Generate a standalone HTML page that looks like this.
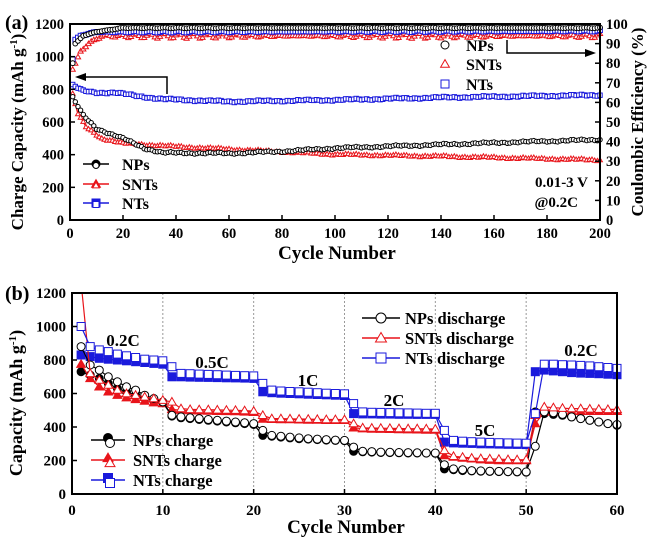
<!DOCTYPE html>
<html><head><meta charset="utf-8">
<style>
html,body{margin:0;padding:0;background:#fff;}
svg{display:block;font-family:"Liberation Serif",serif;font-weight:bold;}
</style></head>
<body>
<svg id="s" width="650" height="537" viewBox="0 0 650 537" xmlns="http://www.w3.org/2000/svg">
</svg>
<script>
const S=document.getElementById('s');let h='';
function T(x,y,t,sz,anc,extra){h+=`<text x="${x}" y="${y}" font-size="${sz}" text-anchor="${anc||'start'}" ${extra||''}>${t}</text>`;}
function mk(type,x,y,r,col,fill){
 const f=fill?col:'#fff';
 if(type=='c')return `<circle cx="${x.toFixed(1)}" cy="${y.toFixed(1)}" r="${r}" fill="${f}" stroke="${col}" stroke-width="1"/>`;
 if(type=='s')return `<rect x="${(x-r).toFixed(1)}" y="${(y-r).toFixed(1)}" width="${2*r}" height="${2*r}" fill="${f}" stroke="${col}" stroke-width="1"/>`;
 return `<polygon points="${x.toFixed(1)},${(y-r*1.1).toFixed(1)} ${(x-r*1.1).toFixed(1)},${(y+r*0.8).toFixed(1)} ${(x+r*1.1).toFixed(1)},${(y+r*0.8).toFixed(1)}" fill="${f}" stroke="${col}" stroke-width="1"/>`;
}
function interp(pts,x){for(let i=0;i<pts.length-1;i++){if(x<=pts[i+1][0]){const[a,b]=pts[i],[c,d]=pts[i+1];return b+(d-b)*(x-a)/(c-a);}}return pts[pts.length-1][1];}
const R='#e8141a',B='#1a1adc',K='#000';
// ---------- Panel (a)
const ax0=70,ax1=600,ay0=220,ay1=24;
const AX=c=>ax0+(ax1-ax0)*c/200, AY=v=>ay0+(ay1-ay0)*v/1200, AYc=v=>ay0+(ay1-ay0)*v/100;
const np=[[1,750],[5,640],[10,560],[20,500],[28,440],[35,412],[60,408],[80,420],[100,440],[140,462],[170,478],[200,492]];
const snt=[[1,770],[3,650],[6,570],[12,500],[20,470],[40,450],[70,425],[100,402],[140,390],[200,368]];
const nt=[[1,825],[5,790],[10,780],[17,780],[25,760],[35,740],[60,725],[80,730],[100,735],[140,750],[200,765]];
const cnp=[[1,80],[2,90],[5,94],[10,96],[20,98],[200,98]];
const csn=[[1,77],[2,80],[4,86],[7,90],[12,94],[200,94]];
const cnt=[[1,82],[2,92],[4,94],[10,96],[200,96.5]];
function noise(i,a){return Math.sin(i*1.7)*a*0.6+Math.sin(i*0.37)*a*0.5;}
let g='';
[[snt,R,'t'],[np,K,'c'],[nt,B,'s']].forEach(([d,col,t])=>{
 let p='';for(let c=1;c<=200;c++){const v=interp(d,c)+noise(c,6);p+=(c==1?'M':'L')+AX(c).toFixed(1)+','+AY(v).toFixed(1);}
 g+=`<path d="${p}" fill="none" stroke="${col}" stroke-width="1.4"/>`;
 for(let c=1;c<=200;c++){const v=interp(d,c)+noise(c,6);g+=mk(t,AX(c),AY(v),2.2,col,false);}
});
[[csn,R,'t',1.2],[cnt,B,'s',0.4],[cnp,K,'c',0.2]].forEach(([d,col,t,nz])=>{
 for(let c=1;c<=200;c++){const v=interp(d,c)+noise(c*3,nz);g+=mk(t,AX(c),AYc(v),2.4,col,false);}
});
h+=g;
h+=`<rect x="${ax0}" y="${ay1}" width="${ax1-ax0}" height="${ay0-ay1}" fill="none" stroke="#000" stroke-width="2"/>`;
for(let v=0;v<=1200;v+=200){const y=AY(v);h+=`<line x1="${ax0}" y1="${y}" x2="${ax0+5}" y2="${y}" stroke="#000" stroke-width="1.5"/>`;T(64,y+5,v,14.5,'end');}
for(let v=0;v<=100;v+=10){const y=AYc(v);h+=`<line x1="${ax1-5}" y1="${y}" x2="${ax1}" y2="${y}" stroke="#000" stroke-width="1.5"/>`;T(606,y+5,v,14.5,'start');}
for(let c=0;c<=200;c+=20){const x=AX(c);h+=`<line x1="${x}" y1="${ay0-5}" x2="${x}" y2="${ay0}" stroke="#000" stroke-width="1.5"/>`;T(x,238,c,14.5,'middle');}
T(337,259,'Cycle Number',19,'middle');
T(23,132,'Charge Capacity (mAh g<tspan dy="-6" font-size="11">-1</tspan><tspan dy="6">)</tspan>',17,'middle','transform="rotate(-90 23 132)"');
T(643,122,'Coulombic Efficiency (%)',17,'middle','transform="rotate(-90 643 122)"');
T(5,29,'(a)',20,'start');
[[K,'c','NPs',164],[R,'t','SNTs',184],[B,'s','NTs',203]].forEach(([col,t,n,y])=>{
 h+=`<line x1="83" y1="${y}" x2="109" y2="${y}" stroke="${col}" stroke-width="1.5"/>`+mk(t,96,y,4,col,true)+mk(t,96,y+1.5,3,col,false);
 T(122,y+6,n,16);
});
[[K,'c','NPs',45],[R,'t','SNTs',64],[B,'s','NTs',84]].forEach(([col,t,n,y])=>{h+=mk(t,445,y,4,col,false);T(466,y+6,n,16);});
h+=`<polyline points="167,94 167,77 82,77" fill="none" stroke="#000" stroke-width="1.5"/><polygon points="75,77 86,73 86,81" fill="#000"/>`;
h+=`<polyline points="507,40 507,53 588,53" fill="none" stroke="#000" stroke-width="1.5"/><polygon points="596,53 585,49 585,57" fill="#000"/>`;
T(588,187,'0.01-3 V',15,'end');T(578,207,'@0.2C',15,'end');
// ---------- Panel (b)
const bx0=72,bx1=617,by0=494,by1=293;
const BX=c=>bx0+(bx1-bx0)*c/60, BY=v=>by0+(by1-by0)*v/1200;
for(let c=10;c<=50;c+=10){h+=`<line x1="${BX(c)}" y1="${by1}" x2="${BX(c)}" y2="${by0}" stroke="#999" stroke-width="1" stroke-dasharray="2,2"/>`;}
const npC=[730,710,690,660,630,610,590,570,555,545,465,455,450,445,440,435,430,425,420,415,350,345,340,335,330,328,325,322,320,318,255,252,250,248,247,246,245,245,244,243,150,145,140,138,136,135,134,133,132,130,490,480,475,470,460,450,440,430,420,410];
const npD=[880,770,740,700,670,640,620,590,570,550,470,460,455,450,445,440,435,430,425,420,380,350,345,340,335,330,328,325,322,320,280,255,253,250,249,248,247,246,245,245,175,150,145,140,138,136,135,134,133,132,285,490,485,475,460,450,440,430,420,415];
const snC=[775,690,640,610,590,575,565,555,545,540,505,500,498,497,495,494,493,492,490,488,448,446,445,444,443,442,441,440,440,440,395,390,388,387,386,385,384,383,382,382,230,220,215,210,205,202,200,200,200,200,420,490,492,494,494,494,494,494,494,494];
const snD=[1400,720,680,650,620,600,590,580,570,560,550,510,505,504,503,502,501,500,498,495,470,450,450,449,448,447,446,445,445,444,420,395,394,393,392,391,390,390,389,388,260,225,220,215,212,210,208,206,205,205,470,520,515,512,510,510,508,506,505,505];
const ntC=[830,820,810,805,800,795,790,785,780,775,700,700,698,697,696,695,694,693,692,690,610,605,602,600,598,596,594,592,590,588,480,478,478,477,477,476,476,475,475,475,310,305,303,302,300,299,298,297,296,295,730,740,735,730,725,722,720,718,715,712];
const ntD=[1000,880,860,850,835,825,815,805,800,795,760,720,718,716,714,712,710,708,706,705,660,620,615,612,610,608,605,602,600,598,540,490,488,487,486,485,484,483,482,482,380,320,315,312,310,308,306,305,304,303,480,775,775,772,770,768,765,760,755,750];
function series(arr,col,t,fill){
 let p='';arr.forEach((v,i)=>{const vv=Math.min(v,1260);p+=(i?'L':'M')+BX(i+1).toFixed(1)+','+BY(vv).toFixed(1);});
 h+=`<path d="${p}" fill="none" stroke="${col}" stroke-width="1.2" clip-path="url(#cb)"/>`;
 arr.forEach((v,i)=>{if(v<1200)h+=mk(t,BX(i+1),BY(v),4,col,fill);});
}
h+=`<defs><clipPath id="cb"><rect x="${bx0}" y="${by1}" width="${bx1-bx0}" height="${by0-by1}"/></clipPath></defs>`;
series(npC,K,'c',true);series(snC,R,'t',true);series(ntC,B,'s',true);
series(npD,K,'c',false);series(snD,R,'t',false);series(ntD,B,'s',false);
h+=`<rect x="${bx0}" y="${by1}" width="${bx1-bx0}" height="${by0-by1}" fill="none" stroke="#000" stroke-width="2"/>`;
for(let v=0;v<=1200;v+=200){const y=BY(v);h+=`<line x1="${bx0}" y1="${y}" x2="${bx0+5}" y2="${y}" stroke="#000" stroke-width="1.5"/>`;T(66,y+5,v,15,'end');}
for(let c=0;c<=60;c+=10){const x=BX(c);h+=`<line x1="${x}" y1="${by0-5}" x2="${x}" y2="${by0}" stroke="#000" stroke-width="1.5"/>`;T(x,515,c,15,'middle');}
T(346,533,'Cycle Number',19,'middle');
T(22,403,'Capacity (mAh g<tspan dy="-6" font-size="11">-1</tspan><tspan dy="6">)</tspan>',18,'middle','transform="rotate(-90 22 403)"');
T(5,300,'(b)',20,'start');
[[K,'c','NPs discharge',318],[R,'t','SNTs discharge',338],[B,'s','NTs discharge',358]].forEach(([col,t,n,y])=>{
 h+=`<line x1="362" y1="${y}" x2="400" y2="${y}" stroke="${col}" stroke-width="1.5"/>`+mk(t,381,y,5,col,false);T(405,y+6,n,16.5);});
[[K,'c','NPs charge',440],[R,'t','SNTs charge',460],[B,'s','NTs charge',480]].forEach(([col,t,n,y])=>{
 h+=`<line x1="91" y1="${y}" x2="125" y2="${y}" stroke="${col}" stroke-width="1.5"/>`+mk(t,108,y-2,4.5,col,true)+mk(t,110,y+3,4.5,col,false);T(133,y+6,n,16.5);});
[['0.2C',123,346],['0.5C',212,368],['1C',308,386],['2C',394,406],['5C',485,436],['0.2C',581,356]].forEach(([t,x,y])=>T(x,y,t,17,'middle'));
S.innerHTML=h;
</script>
</body></html>
